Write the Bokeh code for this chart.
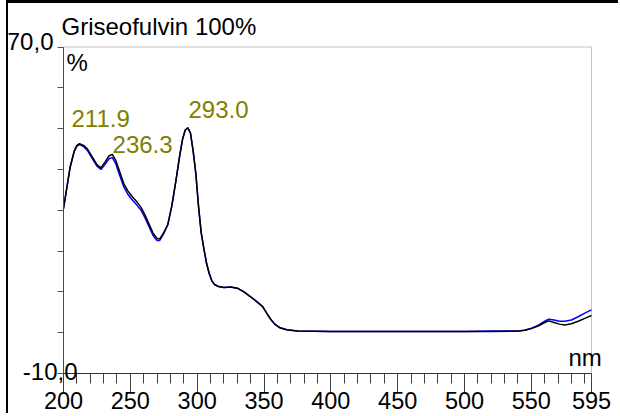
from bokeh.plotting import figure
from bokeh.models import FixedTicker, Label, Range1d, BoxAnnotation
from bokeh.embed import file_html
from bokeh.resources import INLINE

# ---- data ----
wavelength = [200, 202, 205, 208, 210, 212, 215, 218, 222, 225, 228, 231, 234, 236.5,
              239, 242, 245, 248, 251, 255, 258, 261, 264, 267, 270, 272, 275, 278,
              281, 284, 287, 289, 291, 293, 295, 297, 299, 301, 303, 305, 307, 309,
              311, 313, 316, 320, 325, 330, 335, 340, 345, 349, 352, 355, 358, 362,
              367, 375, 400, 450, 500, 520, 540, 545, 550, 555, 560, 563, 567, 571,
              575, 580, 585, 590, 595]
sample_black = [30.4, 34.5, 40.6, 44.5, 45.9, 46.3, 45.9, 45.0, 42.8, 41.2, 40.4, 41.8,
                43.3, 43.7, 42.3, 39.5, 36.6, 34.8, 33.5, 32.0, 30.7, 28.8, 26.6, 24.4,
                23.1, 23.0, 24.5, 26.5, 31.0, 37.0, 43.5, 47.3, 49.6, 50.2, 48.9, 44.5,
                39.0, 31.0, 24.5, 20.6, 17.0, 14.5, 12.7, 11.8, 11.3, 11.1, 11.2, 10.9,
                10.0, 8.8, 7.5, 6.4, 4.8, 3.3, 2.1, 1.2, 0.7, 0.4, 0.3, 0.3, 0.3, 0.3,
                0.4, 0.6, 1.0, 1.6, 2.5, 2.9, 2.5, 2.1, 1.9, 2.2, 2.8, 3.5, 4.2]
sample_blue = [30.4, 34.5, 40.6, 44.4, 45.7, 46.1, 45.6, 44.6, 42.4, 40.8, 40.0, 41.2,
               42.6, 42.9, 41.5, 38.6, 35.8, 34.0, 32.7, 31.2, 30.0, 28.1, 26.0, 23.8,
               22.6, 22.6, 24.3, 26.4, 31.0, 37.0, 43.5, 47.3, 49.6, 50.2, 48.9, 44.5,
               39.0, 31.0, 24.5, 20.6, 17.0, 14.5, 12.7, 11.8, 11.3, 11.1, 11.2, 10.9,
               10.0, 8.8, 7.5, 6.4, 4.8, 3.3, 2.1, 1.2, 0.7, 0.4, 0.3, 0.3, 0.3, 0.4,
               0.4, 0.6, 1.1, 1.8, 2.8, 3.3, 3.1, 2.8, 2.8, 3.1, 3.9, 4.8, 5.6]

X_MIN, X_MAX = 200, 595
Y_MIN, Y_MAX = -10, 70
x_major_ticks = [200, 250, 300, 350, 400, 450, 500, 550, 595]
x_minor_ticks = [210, 220, 230, 240, 260, 270, 280, 290, 310, 320, 330, 340, 360, 370,
                 380, 390, 410, 420, 430, 440, 460, 470, 480, 490, 510, 520, 530, 540,
                 560, 570, 580, 590]
y_ticks = [-10, 0, 10, 20, 30, 40, 50, 60, 70]

peak_labels = ["211.9", "236.3", "293.0"]
peak_label_x = [206.0, 236.7, 293.5]
peak_label_y = [52.5, 46.1, 54.7]

title_text = "Griseofulvin 100%"
y_top_label = "70,0"
y_bottom_label = "-10,0"
y_unit = "%"
x_unit = "nm"

FONT = "Liberation Sans"
FS = "24px"

# frame fills the whole canvas; axes are pinned at fixed data locations
p = figure(width=612, height=413, output_backend="svg", toolbar_location=None, title=None,
           x_range=Range1d(158.854, 616.695), y_range=Range1d(-20.536, 80.659),
           min_border_left=0, min_border_right=0, min_border_top=0, min_border_bottom=0)
p.styles = {"margin-left": "6px", "border-left": "2px solid black", "border-top": "3px solid black"}

p.xgrid.visible = False
p.ygrid.visible = False
p.outline_line_color = None
p.background_fill_color = "white"
p.border_fill_color = "white"

xa = p.xaxis[0]
xa.fixed_location = Y_MIN
xa.bounds = (X_MIN, X_MAX)
xa.ticker = FixedTicker(ticks=x_major_ticks, minor_ticks=x_minor_ticks)
xa.major_tick_out = 19
xa.major_tick_in = 0
xa.minor_tick_out = 10
xa.minor_tick_in = 0
xa.axis_line_color = "#303030"
xa.major_tick_line_color = "#404040"
xa.minor_tick_line_color = "#404040"
xa.major_label_text_font = FONT
xa.major_label_text_font_size = "23.5px"
xa.major_label_text_color = "black"
xa.major_label_standoff = -1

ya = p.yaxis[0]
ya.fixed_location = X_MIN
ya.bounds = (Y_MIN, Y_MAX)
ya.ticker = FixedTicker(ticks=y_ticks, minor_ticks=[])
ya.major_tick_out = 6
ya.major_tick_in = 0
ya.minor_tick_out = 0
ya.axis_line_color = "#505050"
ya.major_tick_line_color = "#505050"
ya.major_label_overrides = {t: "" for t in y_ticks}

p.add_layout(BoxAnnotation(left=X_MIN, right=X_MAX, bottom=Y_MIN, top=Y_MAX,
                           fill_alpha=0, line_color="#404040", line_width=1))

p.line(wavelength, sample_blue, line_color="#0000ff", line_width=1.5)
p.line(wavelength, sample_black, line_color="black", line_width=1.5)

for t, lx, ly in zip(peak_labels, peak_label_x, peak_label_y):
    p.add_layout(Label(x=lx, y=ly, text=t, text_font=FONT, text_font_size=FS,
                       text_color="#808000", text_baseline="alphabetic", text_align="left"))

p.add_layout(Label(x=198.5, y=75.0, text=title_text, text_font=FONT, text_font_size=FS,
                   text_color="black", text_baseline="alphabetic", text_align="left"))
p.add_layout(Label(x=192.5, y=71.3, text=y_top_label, text_font=FONT, text_font_size=FS,
                   text_color="black", text_baseline="alphabetic", text_align="right"))
p.add_layout(Label(x=210.5, y=-9.4, text=y_bottom_label, text_font=FONT, text_font_size=FS,
                   text_color="black", text_baseline="alphabetic", text_align="right"))
p.add_layout(Label(x=202.2, y=66.2, text=y_unit, text_font=FONT, text_font_size=FS,
                   text_color="black", text_baseline="alphabetic", text_align="left"))
p.add_layout(Label(x=577.8, y=-6.1, text=x_unit, text_font=FONT, text_font_size=FS,
                   text_color="black", text_baseline="alphabetic", text_align="left"))

open("out.html", "w").write(file_html(p, INLINE))
